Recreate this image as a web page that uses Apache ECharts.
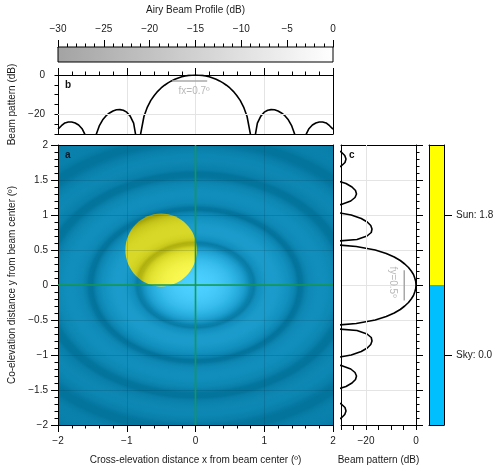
<!DOCTYPE html>
<html>
<head>
<meta charset="utf-8">
<title>Airy beam profile</title>
<script src="https://cdn.jsdelivr.net/npm/echarts@6/dist/echarts.min.js"></script>
<style>
  html, body { margin: 0; padding: 0; background: #fff; }
  #chart { width: 500px; height: 472px; }
</style>
</head>
<body>
<div id="chart"></div>
<script>
// offsets from beam centre (deg) used for both cuts
const cutDeg = [-2,-1.95,-1.9,-1.85,-1.8,-1.75,-1.7,-1.65,-1.6,-1.55,-1.5,-1.45,-1.4,-1.35,-1.3,-1.25,-1.2,-1.15,-1.1,-1.05,
  -1,-0.95,-0.9,-0.85,-0.8,-0.75,-0.7,-0.65,-0.6,-0.55,-0.5,-0.45,-0.4,-0.35,-0.3,-0.25,-0.2,-0.15,-0.1,-0.05,
  0,0.05,0.1,0.15,0.2,0.25,0.3,0.35,0.4,0.45,0.5,0.55,0.6,0.65,0.7,0.75,0.8,0.85,0.9,0.95,
  1,1.05,1.1,1.15,1.2,1.25,1.3,1.35,1.4,1.45,1.5,1.55,1.6,1.65,1.7,1.75,1.8,1.85,1.9,1.95,2];

// panel b: cut along x (cross-elevation), dB
const beamXDb = [-27.5,-25.8,-24.4,-23.9,-23.9,-24.4,-25.4,-27.3,-30.8,-38.6,-42.3,-30.8,-25.9,-22.8,-20.7,-19.3,-18.3,-17.7,-17.6,-17.9,
  -18.9,-20.9,-24.5,-34.5,-30.3,-21.1,-16.3,-12.9,-10.4,-8.3,-6.6,-5.2,-4.0,-3.0,-2.2,-1.5,-0.9,-0.5,-0.2,-0.1,
  0,-0.1,-0.2,-0.5,-0.9,-1.5,-2.2,-3.0,-4.0,-5.2,-6.6,-8.3,-10.4,-12.9,-16.3,-21.1,-30.3,-34.5,-24.5,-20.9,
  -18.9,-17.9,-17.6,-17.7,-18.3,-19.3,-20.7,-22.8,-25.9,-30.8,-42.3,-38.6,-30.8,-27.3,-25.4,-24.4,-23.9,-23.9,-24.4,-25.8,-27.5];

// panel c: cut along y (co-elevation), dB
const beamYDb = [-37.6,-32.6,-29.9,-28.5,-28.0,-28.4,-29.9,-33.3,-42.1,-42.3,-32.4,-28.0,-25.6,-24.2,-23.8,-24.4,-26.1,-29.9,-42.0,-33.9,
  -25.9,-21.9,-19.5,-18.1,-17.6,-17.9,-19.6,-23.6,-40.3,-23.9,-16.3,-11.9,-8.7,-6.3,-4.5,-3.0,-1.9,-1.0,-0.5,-0.1,
  0,-0.1,-0.5,-1.0,-1.9,-3.0,-4.5,-6.3,-8.7,-11.9,-16.3,-23.9,-40.3,-23.6,-19.6,-17.9,-17.6,-18.1,-19.5,-21.9,
  -25.9,-33.9,-42.0,-29.9,-26.1,-24.4,-23.8,-24.2,-25.6,-28.0,-32.4,-42.3,-42.1,-33.3,-29.9,-28.4,-28.0,-28.5,-29.9,-32.6,-37.6];

// radial profile past 2 deg (x-equivalent), needed for the map corners
const tailR  = [2.05,2.1,2.15,2.2,2.25,2.3,2.35,2.4,2.45,2.5,2.55,2.6,2.65,2.7,2.75,2.8,2.85,2.9,2.95,3,3.1,3.2,3.3,3.4,3.5,3.6];
const tailDb = [-29.0,-32.4,-38.2,-60,-39.8,-34.1,-31.1,-29.4,-28.4,-28.0,-28.1,-28.6,-29.7,-31.3,-33.8,-37.6,-45.2,-53.3,-40.7,-36.2,-32.2,-31.1,-31.9,-35.0,-42.5,-49.1];

const beamCenter = [0, 0];
const beamFwhm = [0.7, 0.5];
const sunCenter = [-0.5, 0.5];
const sunRadius = 0.52;

// half power markers
const fxMarkX = [-0.34, 0.17], fxMarkDb = [-3, -3];
const fyMarkDb = [-4.7, -4.7], fyMarkY = [0.21, -0.22];
const fxNote = [-0.02, -8.4], fyNote = [-9.2, 0.04];

// classes on the right colour bar
const classNames = ['Sky', 'Sun'];
const classValues = [0.0, 1.8];
const classColors = ['#00bfff', '#ffff00'];

// dB -> colour ramps of the map
const rampDb  = [-40, -30, -20, -10, 0];
const skyRamp = ['#03749c', '#0b83af', '#1595c4', '#2bb0e2', '#4bd0ff'];
const sunRamp = ['#a3a30a', '#b9b913', '#d3d323', '#e9e93a', '#fbfb56'];

const FONT = 'Liberation Sans, Arial, sans-serif';
const INK = '#000';
const TXT = '#1a1a1a';
const GRIDC = '#e4e4e4';

const lbl = extra => Object.assign({ fontFamily: FONT, fontSize: 10, color: TXT }, extra || {});
const minus = v => String(v).replace('-', '\u2212');

const ringR = cutDeg.filter(x => x >= 0).concat(tailR);
const ringDb = beamXDb.filter((_, i) => cutDeg[i] >= 0).concat(tailDb);

function hexRgb(h) { return [1, 3, 5].map(i => parseInt(h.slice(i, i + 2), 16)); }
function rampColor(db, ramp) {
  const d = Math.max(rampDb[0], Math.min(0, db));
  let i = 0;
  while (i < rampDb.length - 2 && d > rampDb[i + 1]) i++;
  const t = (d - rampDb[i]) / (rampDb[i + 1] - rampDb[i]);
  const a = hexRgb(ramp[i]), b = hexRgb(ramp[i + 1]);
  return 'rgb(' + a.map((v, k) => Math.round(v + (b[k] - v) * t)).join(',') + ')';
}
function beamStops(ramp) {
  const rMax = ringR[ringR.length - 1];
  return ringR.map((r, i) => ({ offset: r / rMax, color: rampColor(ringDb[i], ramp) }));
}

function frameAxis(gridIndex, position, z) {
  return {
    gridIndex, position, type: 'value', min: 0, max: 1, z: z || 0,
    axisLine: { show: true, onZero: false, lineStyle: { color: INK, width: 1 } },
    axisTick: { show: false }, axisLabel: { show: false }, splitLine: { show: false }
  };
}

function renderBeamMap(params, api) {
  const c = api.coord([api.value(0), api.value(1)]);
  const unit = api.size([1, 1]);
  const cs = params.coordSys;
  const k = (beamFwhm[1] / beamFwhm[0]) * (unit[1] / unit[0]);
  const R = ringR[ringR.length - 1] * unit[0];
  const toLocalY = py => c[1] + (py - c[1]) / k;
  const sc = api.coord(sunCenter);
  const sky = new echarts.graphic.RadialGradient(c[0], c[1], R, beamStops(skyRamp), true);
  const sun = new echarts.graphic.RadialGradient(c[0], c[1], R, beamStops(sunRamp), true);
  return {
    type: 'group',
    children: [
      { type: 'rect', originX: c[0], originY: c[1], scaleY: k,
        shape: { x: cs.x, y: toLocalY(cs.y), width: cs.width, height: cs.height / k },
        style: { fill: sky } },
      { type: 'ellipse', originX: c[0], originY: c[1], scaleY: k,
        shape: { cx: sc[0], cy: toLocalY(sc[1]), rx: sunRadius * unit[0], ry: sunRadius * unit[1] / k },
        style: { fill: sun } }
    ]
  };
}

const chart = echarts.init(document.getElementById('chart'), null, { renderer: 'canvas', width: 500, height: 472 });

const option = {
  animation: false,
  backgroundColor: '#fff',
  grid: [
    { left: 58, top: 47, width: 275, height: 15, outerBoundsMode: 'none' },   // profile colour bar
    { left: 58, top: 75, width: 275, height: 59, outerBoundsMode: 'none' },   // b
    { left: 58, top: 145, width: 275, height: 280, outerBoundsMode: 'none' }, // a
    { left: 341, top: 145, width: 75, height: 280, outerBoundsMode: 'none' }, // c
    { left: 429, top: 145, width: 15, height: 280, outerBoundsMode: 'none' }  // class bar
  ],
  xAxis: [
    { gridIndex: 0, type: 'value', position: 'top', min: -30, max: 0, interval: 5,
      axisLine: { show: true, onZero: false, lineStyle: { color: INK } },
      axisTick: { show: true, length: 7, lineStyle: { color: INK } },
      minorTick: { show: true, splitNumber: 5, length: 3.5, lineStyle: { color: INK } },
      axisLabel: lbl({ margin: 13, formatter: minus }),
      splitLine: { show: false },
      name: 'Airy Beam Profile (dB)', nameLocation: 'middle', nameGap: 32, nameTextStyle: lbl() },
    { gridIndex: 1, type: 'value', position: 'top', min: -2, max: 2, interval: 1,
      axisLine: { show: true, onZero: false, lineStyle: { color: INK } },
      axisTick: { show: true, length: 7, lineStyle: { color: INK } },
      minorTick: { show: true, splitNumber: 5, length: 3.5, lineStyle: { color: INK } },
      axisLabel: { show: false },
      splitLine: { show: true, lineStyle: { color: GRIDC, width: 1 } } },
    frameAxis(1, 'bottom'),
    { gridIndex: 2, type: 'value', position: 'bottom', min: -2, max: 2, interval: 1, z: 3,
      axisLine: { show: true, onZero: false, lineStyle: { color: INK } },
      axisTick: { show: true, length: 7, lineStyle: { color: INK } },
      minorTick: { show: true, splitNumber: 5, length: 3.5, lineStyle: { color: INK } },
      axisLabel: lbl({ margin: 11, formatter: minus }),
      splitLine: { show: true, lineStyle: { color: 'rgba(0,30,50,0.14)', width: 1 } },
      name: 'Cross-elevation distance x from beam center (\u00ba)', nameLocation: 'middle', nameGap: 30, nameTextStyle: lbl() },
    frameAxis(2, 'top', 3),
    { gridIndex: 3, type: 'value', position: 'bottom', min: -30, max: 0, interval: 5,
      axisLine: { show: true, onZero: false, lineStyle: { color: INK } },
      axisTick: { show: true, length: 5, lineStyle: { color: INK } },
      axisLabel: lbl({ margin: 11, formatter: minus, customValues: [-20, 0] }),
      splitLine: { show: false },
      name: 'Beam pattern (dB)', nameLocation: 'middle', nameGap: 30, nameTextStyle: lbl() },
    frameAxis(3, 'top'),
    frameAxis(4, 'bottom', 3),
    frameAxis(4, 'top', 3)
  ],
  yAxis: [
    { gridIndex: 0, type: 'value', min: 0, max: 1, show: false },
    { gridIndex: 1, type: 'value', position: 'left', min: -30, max: 0, interval: 5,
      axisLine: { show: true, onZero: false, lineStyle: { color: INK } },
      axisTick: { show: true, length: 3.5, lineStyle: { color: INK } },
      axisLabel: lbl({ margin: 13, formatter: minus, customValues: [-20, 0] }),
      splitLine: { show: false },
      name: 'Beam pattern (dB)', nameLocation: 'middle', nameGap: 40, nameTextStyle: lbl() },
    { gridIndex: 1, type: 'value', position: 'left', min: -30, max: 0,
      axisLine: { show: false },
      axisTick: { show: true, length: 7, customValues: [-20, 0], lineStyle: { color: INK } },
      axisLabel: { show: false }, splitLine: { show: false } },
    frameAxis(1, 'right'),
    { gridIndex: 2, type: 'value', position: 'left', min: -2, max: 2, interval: 0.5, z: 3,
      axisLine: { show: true, onZero: false, lineStyle: { color: INK } },
      axisTick: { show: true, length: 7, lineStyle: { color: INK } },
      minorTick: { show: true, splitNumber: 5, length: 3.5, lineStyle: { color: INK } },
      axisLabel: lbl({ margin: 10, formatter: minus }),
      splitLine: { show: true, lineStyle: { color: 'rgba(0,30,50,0.14)', width: 1 } },
      name: 'Co-elevation distance y from beam center (\u00ba)', nameLocation: 'middle', nameGap: 41, nameTextStyle: lbl() },
    frameAxis(2, 'right', 3),
    { gridIndex: 3, type: 'value', position: 'right', min: -2, max: 2, interval: 0.5,
      axisLine: { show: true, onZero: false, lineStyle: { color: INK } },
      axisTick: { show: true, length: 7, lineStyle: { color: INK } },
      minorTick: { show: true, splitNumber: 5, length: 3.5, lineStyle: { color: INK } },
      axisLabel: { show: false },
      splitLine: { show: true, lineStyle: { color: GRIDC, width: 1 } } },
    frameAxis(3, 'left'),
    { gridIndex: 4, type: 'category', position: 'right', z: 3,
      data: classNames.map((n, i) => n + ': ' + classValues[i].toFixed(1)),
      axisLine: { show: true, onZero: false, lineStyle: { color: INK } },
      axisTick: { show: true, length: 8, alignWithLabel: true, lineStyle: { color: INK } },
      axisLabel: lbl({ margin: 12 }),
      splitLine: { show: false } },
    frameAxis(4, 'left', 3)
  ],
  graphic: [
    { type: 'text', left: 65, top: 150, z: 100, style: { text: 'a', font: 'bold 10px ' + FONT, fill: '#0b1a26' } },
    { type: 'text', left: 65, top: 80, z: 100, style: { text: 'b', font: 'bold 10px ' + FONT, fill: '#111' } },
    { type: 'text', left: 349, top: 150, z: 100, style: { text: 'c', font: 'bold 10px ' + FONT, fill: '#111' } }
  ],
  series: [
    { // profile colour bar
      type: 'custom', xAxisIndex: 0, yAxisIndex: 0, silent: true,
      data: [[-30, 0]],
      renderItem: (params, api) => {
        const a = api.coord([api.value(0), 1]);
        const b = api.coord([api.value(1), 0]);
        return { type: 'rect', shape: { x: a[0], y: a[1], width: b[0] - a[0], height: b[1] - a[1] },
          style: { fill: new echarts.graphic.LinearGradient(0, 0, 1, 0, [
            { offset: 0, color: '#a3a3a3' }, { offset: 1, color: '#ffffff' }]), stroke: INK, lineWidth: 1 } };
      }
    },
    { // beam map with the sun
      type: 'custom', xAxisIndex: 3, yAxisIndex: 4, silent: true, z: 2,
      data: [beamCenter],
      renderItem: renderBeamMap
    },
    { type: 'line', xAxisIndex: 3, yAxisIndex: 4, z: 4, silent: true, symbol: 'none',
      data: [[beamCenter[0], -2], [beamCenter[0], 2]],
      lineStyle: { color: '#17984c', width: 1.6 } },
    { type: 'line', xAxisIndex: 3, yAxisIndex: 4, z: 4, silent: true, symbol: 'none',
      data: [[-2, beamCenter[1]], [2, beamCenter[1]]],
      lineStyle: { color: '#17984c', width: 1.6 } },
    { // panel b
      type: 'line', xAxisIndex: 1, yAxisIndex: 1, symbol: 'none', clip: true, silent: true,
      data: cutDeg.map((x, i) => [x, beamXDb[i]]),
      lineStyle: { color: INK, width: 1.6 },
      markLine: { silent: true, symbol: 'none', label: { show: false },
        lineStyle: { color: GRIDC, width: 1, type: 'solid' }, data: [{ yAxis: -20 }] }
    },
    { type: 'line', xAxisIndex: 1, yAxisIndex: 1, symbol: 'none', silent: true,
      data: fxMarkX.map((x, i) => [x, fxMarkDb[i]]),
      lineStyle: { color: '#a8a8a8', width: 1.5 } },
    { type: 'scatter', xAxisIndex: 1, yAxisIndex: 1, symbolSize: 1, silent: true,
      itemStyle: { color: 'transparent' }, data: [fxNote],
      label: { show: true, position: 'inside', formatter: 'fx=' + beamFwhm[0] + '\u00ba',
        fontFamily: FONT, fontSize: 10, color: '#a6a6a6' } },
    { // panel c
      type: 'line', xAxisIndex: 5, yAxisIndex: 6, symbol: 'none', clip: true, silent: true,
      data: cutDeg.map((y, i) => [beamYDb[i], y]),
      lineStyle: { color: INK, width: 1.6 },
      markLine: { silent: true, symbol: 'none', label: { show: false },
        lineStyle: { color: GRIDC, width: 1, type: 'solid' }, data: [{ xAxis: -20 }] }
    },
    { type: 'line', xAxisIndex: 5, yAxisIndex: 6, symbol: 'none', silent: true,
      data: fyMarkY.map((y, i) => [fyMarkDb[i], y]),
      lineStyle: { color: '#a8a8a8', width: 1.5 } },
    { type: 'scatter', xAxisIndex: 5, yAxisIndex: 6, symbolSize: 1, silent: true,
      itemStyle: { color: 'transparent' }, data: [fyNote],
      label: { show: true, position: 'inside', rotate: -90, formatter: 'fy=' + beamFwhm[1] + '\u00ba',
        fontFamily: FONT, fontSize: 10, color: '#a6a6a6' } },
    { // class colour bar
      type: 'bar', xAxisIndex: 7, yAxisIndex: 8, silent: true, barWidth: '100%',
      data: classColors.map(c => ({ value: 1, itemStyle: { color: c } }))
    }
  ]
};

chart.setOption(option);
</script>
</body>
</html>
